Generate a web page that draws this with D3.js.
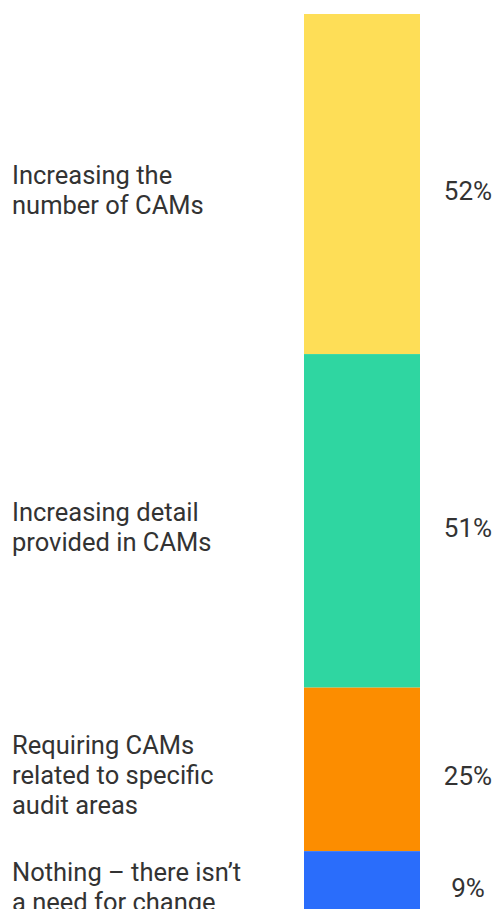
<!DOCTYPE html>
<html>
<head>
<meta charset="utf-8">
<script src="https://cdn.jsdelivr.net/npm/d3@7"></script>
<style>
  html, body { margin: 0; padding: 0; background: #fff; }
</style>
</head>
<body>
<div id="chart"></div>
<script>
// data
const categories = [
    ["Increasing the", "number of CAMs"],
    ["Increasing detail", "provided in CAMs"],
    ["Requiring CAMs", "related to specific", "audit areas"],
    ["Nothing \u2013 there isn\u2019t", "a need for change"]
]
const values = [52, 51, 25, 9]
const colors = ["#fede57", "#2fd6a1", "#fc8d00", "#2a6dfb"]

function c1() {
    const width = 499
    const height = 909
    const fontSize = 25.5
    const valueFontSize = 26
    const lineHeight = 30

    let svg = d3.select("#chart")
        .append("svg")
        .attr("width", width)
        .attr("height", height)

    // stack the segments on top of each other
    let stacked = []
    let acc = 0
    values.forEach(function(v, i) {
        stacked.push({label: categories[i], value: v, y0: acc, y1: acc + v, color: colors[i]})
        acc += v
    })

    let scaleY = d3.scaleLinear().domain([0, acc]).range([14, 910])
    let scaleX = d3.scaleBand().domain(["all"]).range([304, 420])

    svg.selectAll("rect.seg")
        .data(stacked)
        .enter()
        .append("rect")
        .attr("class", "seg")
        .attr("x", scaleX("all"))
        .attr("width", scaleX.bandwidth())
        .attr("y", function(d) {return scaleY(d.y0)})
        .attr("height", function(d) {return scaleY(d.y1) - scaleY(d.y0)})
        .attr("fill", function(d) {return d.color})

    // value labels right of the bar
    svg.selectAll("text.value")
        .data(stacked)
        .enter()
        .append("text")
        .attr("class", "value")
        .attr("x", 468)
        .attr("y", function(d) {return (scaleY(d.y0) + scaleY(d.y1)) / 2 + 16})
        .attr("text-anchor", "middle")
        .attr("font-family", "Roboto, sans-serif")
        .attr("font-size", valueFontSize)
        .attr("fill", "#333")
        .text(function(d) {return d.value + "%"})

    // category labels on the left, one tspan per line
    let labels = svg.selectAll("text.cat")
        .data(stacked)
        .enter()
        .append("text")
        .attr("class", "cat")
        .attr("font-family", "Roboto, sans-serif")
        .attr("font-size", fontSize)
        .attr("fill", "#333")

    labels.selectAll("tspan")
        .data(function(d) {
            let mid = (scaleY(d.y0) + scaleY(d.y1)) / 2 + 15
            let n = d.label.length
            return d.label.map(function(t, j) {
                return {t: t, y: mid + (j - (n - 1) / 2) * lineHeight}
            })
        })
        .enter()
        .append("tspan")
        .attr("x", 12)
        .attr("y", function(d) {return d.y})
        .text(function(d) {return d.t})
}

c1()
</script>
</body>
</html>
